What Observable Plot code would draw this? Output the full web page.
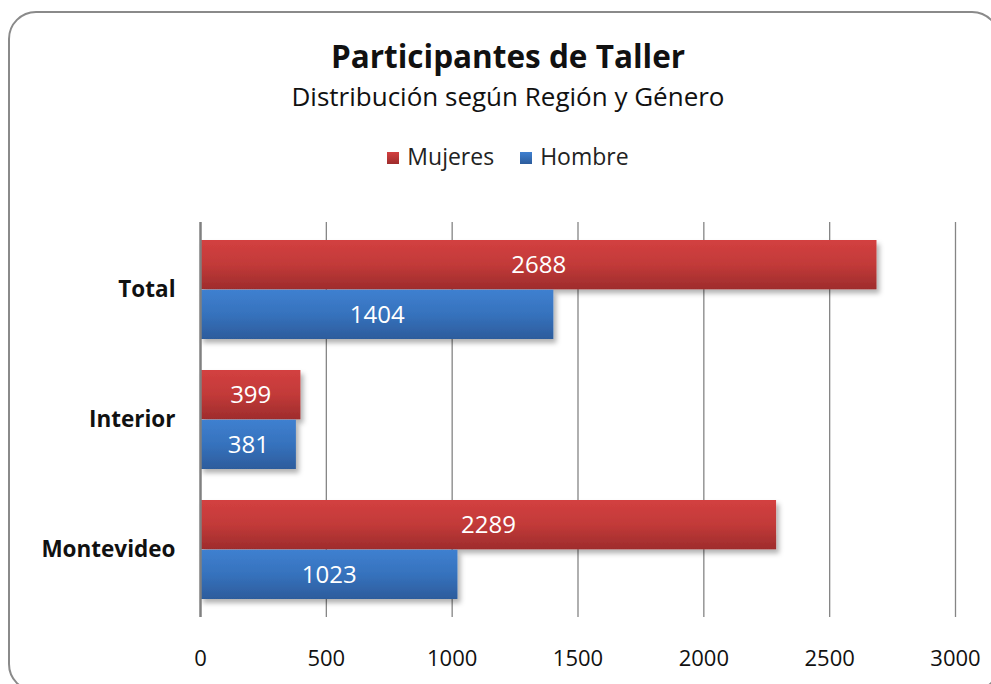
<!DOCTYPE html>
<html><head><meta charset="utf-8">
<script src="https://cdn.jsdelivr.net/npm/d3@7"></script>
<script src="https://cdn.jsdelivr.net/npm/@observablehq/plot@0.6"></script>
<style>
html,body{margin:0;padding:0;width:991px;height:684px;overflow:hidden;background:#fff;font-family:"Open Sans","Noto Sans",sans-serif;}
#frame{position:absolute;left:8px;top:11px;width:992px;height:681px;box-sizing:border-box;border:2.5px solid #8a8a8a;border-radius:28px;}
#title{position:absolute;left:0;width:1016px;top:38px;text-align:center;font-weight:bold;font-size:31.5px;color:#111;line-height:36px;}
#subtitle{position:absolute;left:0;width:1016px;top:82px;text-align:center;font-size:26px;color:#111;line-height:28px;}
#legend{position:absolute;left:0;width:1016px;top:142px;text-align:center;font-size:23px;color:#222;line-height:28px;}
#legend span.item{display:inline-block;margin:0 13px;}
#legend span.sw{display:inline-block;width:12px;height:12px;margin-right:8px;vertical-align:1px;}
#chart{position:absolute;left:0;top:200px;}
</style>
</head><body>
<div id="frame"></div>
<div id="title">Participantes de Taller</div>
<div id="subtitle">Distribución según Región y Género</div>
<div id="legend"></div>
<div id="chart"></div>
<script>
const regiones = ["Total", "Interior", "Montevideo"];
const series = ["Mujeres", "Hombre"];
const mujeres = [2688, 399, 2289];
const hombres = [1404, 381, 1023];
const xTicks = [0, 500, 1000, 1500, 2000, 2500, 3000];
const gradIds = {Mujeres: "gradM", Hombre: "gradH"};
const gradStops = {Mujeres: ["#d34040", "#c23a39", "#9e2c2c"], Hombre: ["#3f80d0", "#3672bd", "#2c5c9c"]};

const dataM = regiones.map((r, i) => ({region: r, serie: "Mujeres", value: mujeres[i]}));
const dataH = regiones.map((r, i) => ({region: r, serie: "Hombre", value: hombres[i]}));

// legend
const leg = document.getElementById("legend");
series.forEach(s => {
  const it = document.createElement("span");
  it.className = "item";
  const sw = document.createElement("span");
  sw.className = "sw";
  sw.style.background = `linear-gradient(${gradStops[s][0]}, ${gradStops[s][2]})`;
  it.appendChild(sw);
  it.appendChild(document.createTextNode(s));
  leg.appendChild(it);
});

const W = 991, H = 484, mt = 22, mb = 67, ml = 200, mr = 36;
const padIn = 0.237, padOut = 0.135;
const yb = d3.scaleBand(regiones, [mt, H - mb]).paddingInner(padIn).paddingOuter(padOut);
const bw = yb.bandwidth();

const plot = Plot.plot({
  width: W, height: H,
  marginTop: mt, marginBottom: mb, marginLeft: ml, marginRight: mr,
  style: {fontSize: "22px", fontFamily: "'Open Sans', 'Noto Sans', sans-serif", color: "#111", background: "transparent"},
  x: {domain: [0, 3000], ticks: xTicks, tickSize: 0, tickPadding: 33, label: null, tickFormat: d => String(d)},
  y: {domain: regiones, paddingInner: padIn, paddingOuter: padOut, tickSize: 0, tickPadding: 25, label: null},
  marks: [
    Plot.ruleX(xTicks.slice(1), {stroke: "#858585", strokeWidth: 1.3}),
    Plot.barX(dataM, {x: "value", y: "region", fill: "url(#gradM)", insetBottom: bw / 2}),
    Plot.barX(dataH, {x: "value", y: "region", fill: "url(#gradH)", insetTop: bw / 2}),
    Plot.ruleX([0], {stroke: "#808080", strokeWidth: 2.5}),
    Plot.text(dataM, {x: d => d.value / 2, y: "region", dy: -bw / 4, text: d => String(d.value), fill: "white", fontSize: 24}),
    Plot.text(dataH, {x: d => d.value / 2, y: "region", dy: bw / 4, text: d => String(d.value), fill: "white", fontSize: 24})
  ]
});

const svg = d3.select(plot);
const defs = svg.insert("defs", ":first-child");
series.forEach(s => {
  const g = defs.append("linearGradient").attr("id", gradIds[s]).attr("x1", 0).attr("y1", 0).attr("x2", 0).attr("y2", 1);
  g.append("stop").attr("offset", "0%").attr("stop-color", gradStops[s][0]);
  g.append("stop").attr("offset", "50%").attr("stop-color", gradStops[s][1]);
  g.append("stop").attr("offset", "100%").attr("stop-color", gradStops[s][2]);
});
const f = defs.append("filter").attr("id", "shadow").attr("x", "-5%").attr("y", "-20%").attr("width", "115%").attr("height", "160%");
f.append("feDropShadow").attr("dx", 3).attr("dy", 4).attr("stdDeviation", 2.5).attr("flood-color", "#000").attr("flood-opacity", 0.3);
svg.selectAll("g[aria-label='bar']").attr("filter", "url(#shadow)");
svg.selectAll("g[aria-label^='y-axis'] text").style("font-weight", "bold").style("font-size", "22.5px");
document.getElementById("chart").appendChild(plot);
</script>
</body></html>
